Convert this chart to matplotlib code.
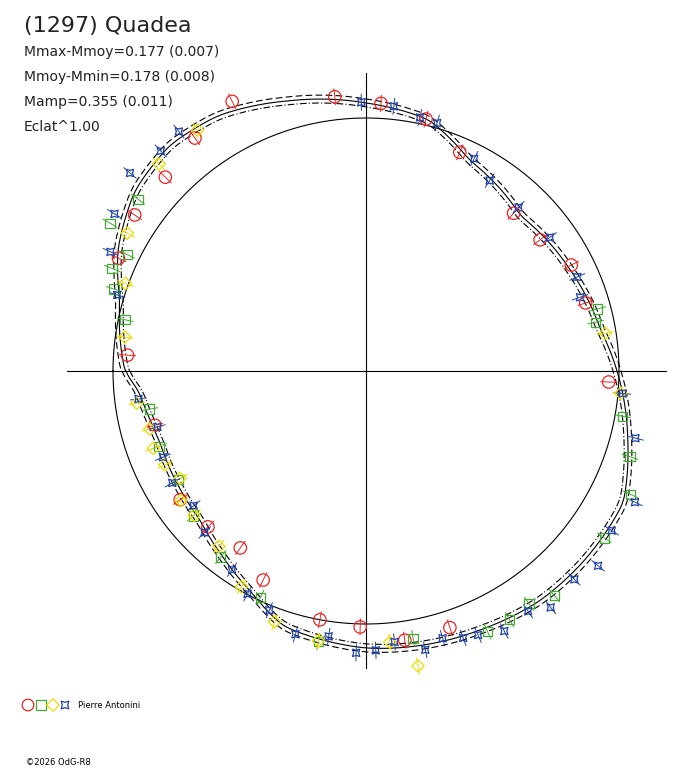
import numpy as np
import matplotlib
matplotlib.use("Agg")
import matplotlib.pyplot as plt

# lightcurve model radius (px from centre) vs polar angle (deg)
curve_ang = [-180, -175, -167, -161, -148, -138, -128, -118, -108, -90, -66, -53, -41, -27, -15,
             0, 10, 26, 45, 64, 76, 90, 106, 120, 131, 142, 154, 164, 180]
curve_r = [241, 228, 221, 218, 220, 223, 234, 248, 268, 277, 283, 288, 289, 289, 271,
           251, 238, 228, 219, 235, 259, 268, 281, 295, 299, 293, 276, 256, 241]
ref_r = 253

red_ang = [116.4, 96.5, 86.8, 76.6, 66.8, 46.9, 37, 27.3, 17.2, -2.6, -71.9, -81.8, -91.3, -100.5,
           -116.2, -125.4, -135.4, -145.3, -165.6, 176.2, 155.5, 146, 136, 126.3]
red_r = [301, 276, 268, 259, 238, 216, 218, 231, 230, 243, 270, 272, 256, 253,
         233, 217, 222, 226, 218, 239, 272, 279, 279, 289]

blue_ang = [140, 148, 155, 163, 128, 133, 91, 84, 78, 74, 63, 57, 47, 36, 24, 19, -5, -14, -26, -33,
            -40, -45, -52, -56, -62, -67, -70, -74, -78, -84, -88, -92, -98, -105, -112, -118,
            -124, -135, -142, -150, -157, -165, -173]
blue_d = [14, 12, 8, 2, 6, 3, 0, 2, -1, 3, 4, -2, 3, 4, 2, -6, 0, 8, 12, 4,
          14, 6, 12, 3, 10, 4, 2, -3, 5, -6, 2, 6, -5, 3, -2, 4,
          0, 2, -3, 4, 2, -4, 3]

yel_ang = [135, 125, 150, 160, -165, -160, -155, -150, -145, -140, -130, -120, -110, -100, -85, -80,
           9, -5, 172, -172]
yel_d = [-4, -3, -6, -8, 4, 8, 3, -5, 5, 2, -3, 4, 3, 2, -6, 20, 3, -2, -5, 6]

grn_ang = [150, 154, 158, 162, 168, -170, -160, -150, -140, -128, -115, -100, -80, -65, -60, -55,
           -50, -35, -25, -18, -10, 15, 12, 143]
grn_d = [14, -10, 6, 5, -6, -4, 2, -3, 3, 2, -4, 3, -8, 4, 2, -3, 5, 2, 6, 2, -4, 5, -2, -6]

# smooth model on fine grid
th = np.linspace(-180, 180, 1441)
rf = np.interp(th, curve_ang, curve_r)
k = 17
rf = np.convolve(np.r_[rf[-k:], rf, rf[:k]], np.ones(k) / k, mode="same")[k:-k]

cx, cy = 366, 371


def rmod(a):
    return np.interp(a, th, rf)


def xy(a, r):
    a = np.radians(a)
    return cx + np.asarray(r) * np.cos(a), cy - np.asarray(r) * np.sin(a)


fig = plt.figure(figsize=(6.88, 7.68), dpi=100)
ax = fig.add_axes([0, 0, 1, 1])
ax.set_xlim(0, 688)
ax.set_ylim(768, 0)
ax.axis("off")

ax.plot([67, 666], [cy, cy], color="black", lw=0.8)
ax.plot([cx, cx], [73, 668], color="black", lw=0.8)
x, y = xy(th, ref_r)
ax.plot(x, y, color="black", lw=0.8)
x, y = xy(th, rf)
ax.plot(x, y, color="black", lw=0.8)
x, y = xy(th, rf + 4)
ax.plot(x, y, color="black", lw=0.8, ls=(0, (6, 3)))
x, y = xy(th, rf - 4)
ax.plot(x, y, color="black", lw=0.8, ls=(0, (6, 2, 1, 2)))


def series(ang, r, color, marker, ms):
    ang = np.array(ang, float)
    r = np.array(r, float)
    for a, rr in zip(ang, r):
        x0, y0 = xy(a, rr - 8)
        x1, y1 = xy(a, rr + 8)
        ax.plot([x0, x1], [y0, y1], color=color, lw=0.7)
    x, y = xy(ang, r)
    ax.scatter(x, y, s=ms, marker=marker, facecolors="none", edgecolors=color, linewidths=0.9, zorder=3)


series(red_ang, red_r, "#ee2222", "o", 80)
series(grn_ang, rmod(np.array(grn_ang)) + np.array(grn_d), "#44aa33", "s", 45)
series(yel_ang, rmod(np.array(yel_ang)) + np.array(yel_d), "#eedd00", "D", 40)
series(blue_ang, rmod(np.array(blue_ang)) + np.array(blue_d), "#2244aa", (4, 1, 45), 55)

ax.text(24, 32, "(1297) Quadea", fontsize=16, color="#222222")
for i, s in enumerate(["Mmax-Mmoy=0.177 (0.007)", "Mmoy-Mmin=0.178 (0.008)",
                       "Mamp=0.355 (0.011)", "Eclat^1.00"]):
    ax.text(24, 56 + 25 * i, s, fontsize=10, color="#222222")

lx = [28, 41, 53, 65]
ax.scatter(lx[0], 705, s=70, marker="o", facecolors="none", edgecolors="#ee2222", lw=0.9)
ax.scatter(lx[1], 705, s=45, marker="s", facecolors="none", edgecolors="#44aa33", lw=0.9)
ax.scatter(lx[2], 705, s=40, marker="D", facecolors="none", edgecolors="#eedd00", lw=0.9)
ax.scatter(lx[3], 705, s=60, marker=(4, 1, 45), facecolors="none", edgecolors="#2244aa", lw=0.9)
ax.text(78, 708, "Pierre Antonini", fontsize=6)
ax.text(26, 765, "©2026 OdG-R8", fontsize=6)

fig.savefig("out.png", dpi=100)
